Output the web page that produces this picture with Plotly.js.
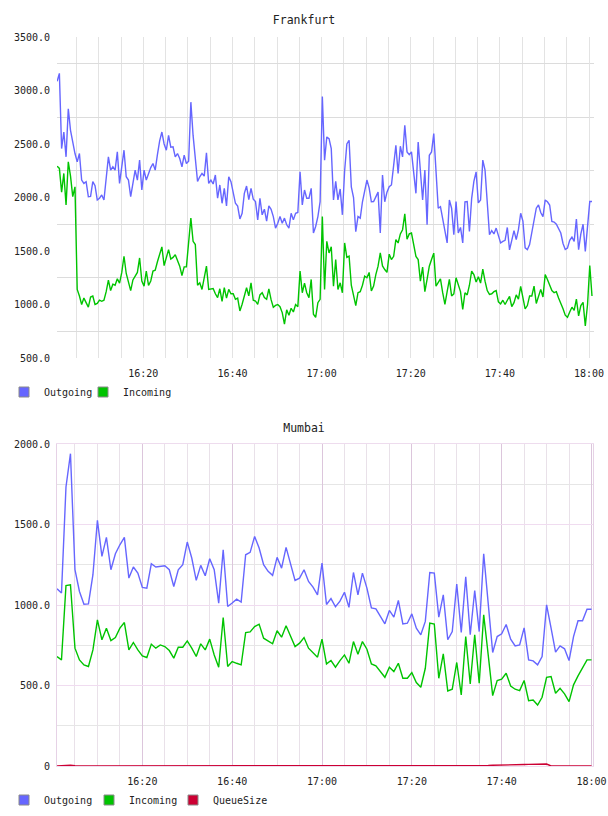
<!DOCTYPE html>
<html><head><meta charset="utf-8">
<script src="https://cdn.plot.ly/plotly-3.0.1.min.js"></script>
<style>body{margin:0;background:#fff;overflow:hidden} #fra,#mum{width:608px;height:408px}</style>
</head><body><div id="fra"></div><div id="mum"></div>
<script>
// ---------- Frankfurt (samples every 30 s from 16:00:40) ----------
const fraStart = '2024-01-01T16:00:40Z';
const fraStepSec = 30;
const fraOutgoing = [3086,3160,2457,2612,2380,2829,2628,2504,2411,2333,
2411,2163,2132,2148,2008,2010,2148,2110,1977,1993,
2024,1977,2200,2380,2256,2287,2256,2426,2132,2300,
2442,2194,2163,2008,2140,2256,2163,2349,2070,2256,
2163,2225,2280,2318,2256,2400,2530,2612,2500,2442,
2581,2470,2473,2380,2411,2364,2287,2395,2318,2340,
2891,2580,2360,2150,2194,2225,2200,2417,2132,2163,
2126,2210,1993,2117,1946,2086,1922,2194,2148,2039,
1946,1920,1800,1853,2039,2107,1980,2086,1985,1962,
1791,1993,1838,1891,1780,1922,1890,1822,1714,1760,
1822,1760,1807,1745,1714,1853,1791,1853,1860,2240,
1931,2070,1993,1993,2086,1668,1729,1822,1962,2944,
2349,2566,2550,2457,1977,2150,1977,2080,1838,2250,
2500,2535,2100,2000,1680,1822,1807,1960,2070,2163,
2090,1960,1962,2000,2050,1668,2210,1960,2050,2101,
2117,2300,2488,2225,2479,2380,2674,2426,2400,2426,
2225,2039,2519,2287,1977,2256,1745,2395,2426,2597,
2250,1900,1915,1807,1699,1575,1977,1900,1652,1962,
1668,1720,1575,1960,1962,1683,1990,2150,2240,1950,
1977,2349,2256,1950,1652,1690,1660,1714,1650,1575,
1590,1600,1720,1510,1600,1690,1606,1700,1853,1780,
1530,1513,1560,1680,1760,1900,1931,1860,1820,1977,
1960,1930,1776,1770,1750,1700,1668,1570,1515,1528,
1600,1630,1590,1798,1513,1660,1750,1497,1700,1962,
1962];
const fraIncoming = [2293,2272,2050,2225,1931,2333,2200,2008,2100,1141,
1079,1000,1060,1017,975,1070,1079,1000,1010,1040,
1030,1040,1120,1228,1130,1190,1180,1240,1200,1300,
1451,1290,1200,1130,1230,1265,1300,1435,1220,1172,
1312,1178,1220,1312,1321,1400,1480,1538,1364,1451,
1513,1425,1440,1466,1420,1358,1271,1352,1352,1600,
1807,1590,1560,1180,1203,1141,1234,1358,1141,1147,
1150,1100,1064,1147,1030,1157,1060,1141,1100,1100,
1048,1060,940,1002,1080,1157,1080,1203,1040,1033,
1002,1090,1110,1064,1048,1147,1045,975,992,1000,
980,924,816,950,900,965,930,1000,980,1312,
1110,1200,1110,1064,1234,909,880,1017,1048,1822,
1141,1590,1482,1540,1172,1420,1141,1203,1110,1575,
1440,1451,1180,1079,990,1110,1120,1180,1265,1250,
1300,1126,1172,1280,1358,1482,1360,1327,1300,1470,
1420,1450,1606,1575,1660,1699,1847,1610,1660,1668,
1544,1450,1420,1218,1350,1120,1234,1358,1420,1480,
1172,1203,1240,1110,1002,1120,1234,1080,1100,1250,
1180,1120,955,1110,1090,1180,1312,1280,1210,1260,
1200,1330,1218,1130,1095,1100,1120,1130,1025,1005,
1040,1000,1040,1075,980,1017,1090,1050,1170,1070,
960,990,1080,1080,1172,1010,1080,1141,1070,1280,
1234,1180,1130,1110,1120,1060,1017,960,900,880,
930,975,945,1050,893,990,1020,800,1000,1364,
1079];
const fraTickVals = [500,1000,1500,2000,2500,3000,3500];
const fraTickText = ['500.0','1000.0','1500.0','2000.0','2500.0','3000.0','3500.0'];

// ---------- Mumbai (samples every 60 s from 16:01) ----------
const mumStart = '2024-01-01T16:01:00Z';
const mumStepSec = 60;
const mumOutgoing = [1101,1074,1733,1940,1219,1084,1005,1007,1188,1526,
1302,1420,1219,1318,1374,1420,1167,1236,1198,1109,
1105,1256,1236,1240,1244,1219,1115,1219,1250,1391,
1292,1153,1246,1182,1287,1219,1012,1343,991,1012,
1036,1018,1312,1327,1426,1354,1250,1209,1184,1296,
1229,1358,1260,1153,1167,1219,1146,1111,1063,1260,
1003,1040,989,1024,1079,985,1202,1063,1198,1105,
982,976,929,883,966,925,1028,883,887,945,
856,815,898,1202,1198,925,1063,784,835,1130,
830,1175,815,1090,835,1318,1010,705,804,821,
879,788,746,752,858,659,653,628,680,1001,
856,707,746,728,655,804,902,902,974,974];
const mumIncoming = [680,659,1121,1126,732,659,628,618,721,908,
784,856,779,798,856,891,721,767,721,684,
674,757,732,752,742,717,670,738,738,777,
732,680,759,721,788,690,614,922,618,649,
638,628,829,833,866,881,794,779,759,840,
800,871,804,742,763,798,732,701,676,788,
634,655,614,655,690,638,773,694,773,725,
634,622,587,551,614,587,638,545,545,580,
518,489,607,887,881,545,696,466,477,643,
441,804,510,815,514,939,690,437,531,539,
576,497,477,468,531,406,410,379,427,551,
556,452,483,448,400,504,560,607,659,659];
const mumQueue = [0,2,5,5,2,0,0,0,0,0,
0,0,0,0,0,0,0,0,0,0,
0,0,0,0,0,0,0,0,0,0,
0,0,0,0,0,0,0,0,0,0,
0,0,0,0,0,0,0,0,0,0,
0,0,0,0,0,0,0,0,0,0,
0,0,0,0,0,0,0,0,0,0,
0,0,0,0,0,0,0,0,0,0,
0,0,0,0,0,0,0,0,0,0,
0,0,1,2,3,3,4,5,5,6,
7,7,8,9,9,10,10,11,12,12,
0,0,0,0,0,0,0,0,0,0];
const mumTickVals = [0,500,1000,1500,2000];
const mumTickText = ['0','500.0','1000.0','1500.0','2000.0'];

const seriesNames = ['Outgoing','Incoming','QueueSize'];
const seriesColors = ['#6666ff','#00c400','#cc0033'];
const legendIds = ['legend','legend2','legend3'];

function timeAxis(start, n, stepSec){
  const t0 = Date.parse(start);
  const out = [];
  for (let i=0;i<n;i++) out.push(new Date(t0+i*stepSec*1000).toISOString().replace('T',' ').slice(0,19));
  return out;
}

const FONT = 'DejaVu Sans Mono, monospace';

function lineTrace(x,y,i){
  return {x:x,y:y,type:'scatter',mode:'lines',name:seriesNames[i],legendgroup:seriesNames[i],
    showlegend:false,line:{color:seriesColors[i],width:1.4},hoverinfo:'skip'};
}
function legendTrace(i){
  return {x:[null],y:[null],type:'scatter',mode:'markers',name:seriesNames[i],legendgroup:seriesNames[i],
    legend:legendIds[i],showlegend:true,
    marker:{symbol:'square',size:10,color:seriesColors[i],line:{color:'#8a8a8a',width:1}}};
}
function legendBox(xpx){
  return {orientation:'h',xref:'container',x:xpx/608,xanchor:'left',yref:'container',y:1-392/408,yanchor:'middle',
    font:{family:FONT,size:10,color:'#222'},bgcolor:'rgba(0,0,0,0)',itemwidth:30};
}

function baseLayout(title, xRange, ml, mr, mt, mb){
  return {
    width:608,height:408,
    margin:{l:ml,r:mr,t:mt,b:mb,pad:0,autoexpand:false},
    paper_bgcolor:'#ffffff',plot_bgcolor:'#ffffff',
    font:{family:FONT,size:10,color:'#222'},
    title:{text:title,font:{family:FONT,size:11.5,color:'#222'},x:0.5,xanchor:'center',
      y:1-20/408,yref:'container',yanchor:'middle'},
    showlegend:true,
    xaxis:{type:'date',range:xRange,tick0:'2024-01-01 16:00:00',dtick:1200000,tickformat:'%H:%M',
      ticks:'outside',ticklen:6,tickcolor:'rgba(0,0,0,0)',showline:false,zeroline:false,
      tickfont:{family:FONT,size:10,color:'#222'},fixedrange:true},
    yaxis:{ticks:'outside',ticklen:4,tickcolor:'rgba(0,0,0,0)',zeroline:false,showline:false,
      tickfont:{family:FONT,size:10,color:'#222'},fixedrange:true}
  };
}

// Frankfurt chart
(function(){
  const x = timeAxis(fraStart, fraOutgoing.length, fraStepSec);
  const data = [lineTrace(x,fraOutgoing,0), lineTrace(x,fraIncoming,1), legendTrace(0), legendTrace(1)];
  const L = baseLayout('Frankfurt',['2024-01-01 16:00:38','2024-01-01 18:01:07'],57,14,37,50);
  L.legend = legendBox(4);
  L.legend2 = legendBox(83);
  L.xaxis.showgrid = true; L.xaxis.gridcolor = '#e3e3e3'; L.xaxis.gridwidth = 1;
  L.xaxis.minor = {tick0:'2024-01-01 16:00:00',dtick:300000,showgrid:true,gridcolor:'#e3e3e3',gridwidth:1,ticks:''};
  L.yaxis.range = [500,3500];
  L.yaxis.tickmode = 'array'; L.yaxis.tickvals = fraTickVals; L.yaxis.ticktext = fraTickText;
  L.yaxis.showgrid = false;
  L.yaxis.minor = {tickmode:'linear',tick0:750,dtick:500,showgrid:true,gridcolor:'#dcdcdc',gridwidth:1,ticks:''};
  Plotly.newPlot('fra', data, L, {staticPlot:true,displayModeBar:false});
})();

// Mumbai chart
(function(){
  const x = timeAxis(mumStart, mumOutgoing.length, mumStepSec);
  const data = [lineTrace(x,mumOutgoing,0), lineTrace(x,mumIncoming,1), lineTrace(x,mumQueue,2),
    legendTrace(0), legendTrace(1), legendTrace(2)];
  const L = baseLayout('Mumbai',['2024-01-01 16:01:00','2024-01-01 18:00:20'],57,15,36,50);
  L.legend = legendBox(4);
  L.legend2 = legendBox(89);
  L.legend3 = legendBox(173);
  L.xaxis.showgrid = true; L.xaxis.gridcolor = '#dcc6dc'; L.xaxis.gridwidth = 1;
  L.xaxis.minor = {tick0:'2024-01-01 16:00:00',dtick:300000,showgrid:true,gridcolor:'#e9e1e9',gridwidth:1,ticks:''};
  L.xaxis.showline = true; L.xaxis.mirror = true; L.xaxis.linecolor = '#eedcee'; L.xaxis.linewidth = 1;
  L.yaxis.range = [0,2000];
  L.yaxis.tickmode = 'array'; L.yaxis.tickvals = mumTickVals; L.yaxis.ticktext = mumTickText;
  L.yaxis.showgrid = true; L.yaxis.gridcolor = '#f0dcf0';
  L.yaxis.showline = true; L.yaxis.mirror = true; L.yaxis.linecolor = '#e6d2e6'; L.yaxis.linewidth = 1;
  L.yaxis.minor = {tickmode:'linear',tick0:250,dtick:500,showgrid:true,gridcolor:'#e6e6e6',gridwidth:1,ticks:''};
  Plotly.newPlot('mum', data, L, {staticPlot:true,displayModeBar:false});
})();
</script>
</body></html>
